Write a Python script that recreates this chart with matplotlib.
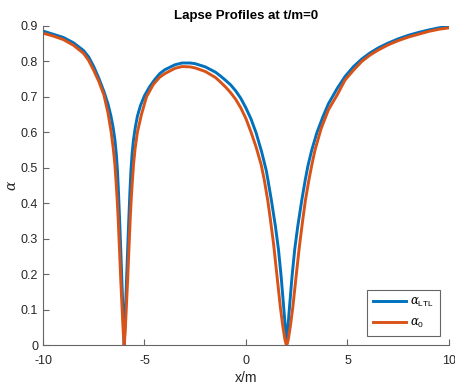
import numpy as np
import matplotlib
matplotlib.use('Agg')
import matplotlib.pyplot as plt

plt.rcParams['font.family'] = ['Liberation Sans', 'DejaVu Sans']
plt.rcParams['mathtext.fontset'] = 'custom'
plt.rcParams['mathtext.rm'] = 'Liberation Sans'
plt.rcParams['mathtext.it'] = 'DejaVu Serif:italic'
plt.rcParams['axes.unicode_minus'] = False

# alpha_LTL (blue), values
x_ltl = [-10, -9.5, -9, -8.5, -8, -7.75, -7.5, -7.25, -7, -6.8, -6.65, -6.55,
         -6.46, -6.39, -6.33, -6.28, -6.23, -6.17, -6.11, -6.055, -6.025, -6,
         -5.975, -5.945, -5.89, -5.83, -5.77, -5.72, -5.67, -5.61, -5.54, -5.45,
         -5.35, -5.2, -5, -4.75, -4.5, -4.25, -4, -3.5, -3.15, -2.75, -2.5, -2,
         -1.5, -1.27, -1, -0.75, -0.5, -0.25, 0, 0.25, 0.5, 0.77, 1, 1.08, 1.25,
         1.45, 1.6, 1.73, 1.855, 1.93, 1.97, 2, 2.03, 2.07, 2.145, 2.27, 2.4,
         2.55, 2.75, 2.92, 3.05, 3.24, 3.5, 3.8, 4.06, 4.5, 4.88, 5.3, 5.7, 6.1,
         6.53, 7, 7.5, 8, 8.5, 9, 9.5, 10]
a_ltl = [0.885, 0.876, 0.867, 0.852, 0.830, 0.812, 0.785, 0.752, 0.715, 0.680,
         0.645, 0.615, 0.580, 0.540, 0.490, 0.430, 0.360, 0.270, 0.175, 0.088,
         0.040, 0.0, 0.040, 0.088, 0.175, 0.270, 0.360, 0.430, 0.490, 0.540,
         0.580, 0.615, 0.645, 0.675, 0.703, 0.728, 0.748, 0.765, 0.776, 0.790,
         0.795, 0.795, 0.793, 0.784, 0.769, 0.759, 0.746, 0.733, 0.716, 0.695,
         0.668, 0.637, 0.598, 0.545, 0.492, 0.466, 0.409, 0.335, 0.270, 0.195,
         0.109, 0.055, 0.025, 0.0, 0.025, 0.055, 0.109, 0.195, 0.270, 0.335,
         0.409, 0.466, 0.505, 0.550, 0.600, 0.645, 0.680, 0.724, 0.757, 0.785,
         0.806, 0.823, 0.838, 0.851, 0.863, 0.873, 0.881, 0.888, 0.894, 0.898]

# alpha_0 (orange)
x_0 = [-10, -9.5, -9, -8.5, -8, -7.75, -7.5, -7.25, -7, -6.8, -6.64, -6.54,
       -6.46, -6.4, -6.35, -6.3, -6.24, -6.17, -6.1, -6.05, -6, -5.95, -5.9,
       -5.83, -5.76, -5.7, -5.65, -5.6, -5.54, -5.46, -5.35, -5.15, -4.9,
       -4.56, -4.25, -4, -3.5, -3.15, -2.75, -2.5, -2, -1.5, -1.27, -1, -0.75,
       -0.5, -0.25, 0, 0.25, 0.5, 0.75, 0.9, 1.07, 1.2, 1.36, 1.5, 1.69, 1.8,
       1.9, 1.95, 2, 2.05, 2.1, 2.2, 2.31, 2.5, 2.63, 2.8, 2.93, 3.1, 3.25, 3.4,
       3.7, 4.06, 4.5, 4.88, 5.3, 5.7, 6.1, 6.53, 7, 7.5, 8, 8.5, 9, 9.5, 10]
a_0 = [0.879, 0.871, 0.861, 0.845, 0.822, 0.802, 0.774, 0.743, 0.705, 0.655,
       0.600, 0.555, 0.510, 0.460, 0.415, 0.360, 0.280, 0.185, 0.100, 0.040,
       0.0, 0.040, 0.100, 0.185, 0.280, 0.360, 0.415, 0.460, 0.510, 0.555,
       0.600, 0.650, 0.700, 0.735, 0.755, 0.765, 0.780, 0.785, 0.784, 0.781,
       0.771, 0.754, 0.742, 0.727, 0.711, 0.692, 0.668, 0.638, 0.600, 0.558,
       0.508, 0.466, 0.409, 0.355, 0.285, 0.210, 0.109, 0.060, 0.022, 0.008,
       0.0, 0.008, 0.022, 0.060, 0.109, 0.210, 0.278, 0.355, 0.409, 0.466,
       0.510, 0.550, 0.610, 0.663, 0.706, 0.747, 0.775, 0.799, 0.817, 0.832,
       0.846, 0.858, 0.868, 0.876, 0.884, 0.890, 0.894]

fig = plt.figure(figsize=(4.56, 3.86), dpi=100)
ax = fig.add_axes([0.0943, 0.1054, 0.8903, 0.828])

ax.plot(x_ltl, a_ltl, color='#0072BD', lw=2.1, label=r'$\mathit{\alpha}_{\mathrm{LTL}}$')
ax.plot(x_0, a_0, color='#D95319', lw=2.1, label=r'$\mathit{\alpha}_{\mathrm{0}}$')

ax.set_xlim(-10, 10)
ax.set_ylim(0, 0.9)
ax.set_xticks([-10, -5, 0, 5, 10])
ax.set_yticks(np.arange(0, 0.91, 0.1))
ax.set_yticklabels(['0', '0.1', '0.2', '0.3', '0.4', '0.5', '0.6', '0.7', '0.8', '0.9'])

for s in ['top', 'right']:
    ax.spines[s].set_visible(False)
for s in ['left', 'bottom']:
    ax.spines[s].set_color('#666666')
    ax.spines[s].set_linewidth(0.8)
ax.tick_params(direction='in', length=4, width=0.8, color='#666666',
               labelcolor='#262626', labelsize=9)
ax.tick_params(axis='x', pad=7)

ax.set_title('Lapse Profiles at t/m=0', fontsize=9.5, fontweight='bold', pad=5)
ax.set_xlabel('x/m', fontsize=10, color='#262626', labelpad=3)
ax.set_ylabel(r'$\mathit{\alpha}$', fontsize=10, color='#262626', labelpad=1.5)

leg = ax.legend(loc='lower right', bbox_to_anchor=(0.978, 0.029), borderaxespad=0,
                fontsize=8.5, handlelength=2.8, handletextpad=0.4, borderpad=0.5,
                labelspacing=0.7, fancybox=False, framealpha=1)
leg.get_frame().set_edgecolor('#666666')
leg.get_frame().set_linewidth(0.8)

fig.savefig('out.png', dpi=100)
